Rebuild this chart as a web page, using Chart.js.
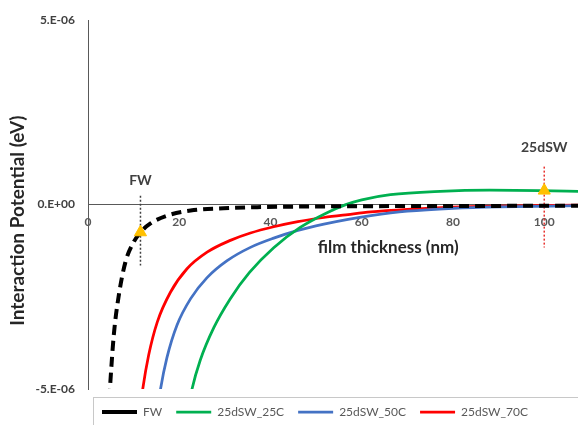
<!DOCTYPE html>
<html>
<head>
<meta charset="utf-8">
<script src="https://cdn.jsdelivr.net/npm/chart.js@4"></script>
<style>
  html, body { margin: 0; padding: 0; background: #ffffff; }
</style>
</head>
<body>
<canvas id="chart" width="578" height="425"></canvas>
<script>
// Interaction potential vs. film thickness
const seriesNames = ['FW', '25dSW_25C', '25dSW_50C', '25dSW_70C'];

const fwThickness = [4.45, 4.8, 5.65, 6.75, 8.2, 10.0, 11.5, 13.7, 17.3, 22.5, 29.7, 37.1, 50, 70, 90, 108];
const fwPotential = [-5.7e-6, -5.0e-6, -3.54e-6, -2.46e-6, -1.56e-6, -1.02e-6, -0.75e-6, -0.51e-6, -0.30e-6, -0.16e-6, -0.10e-6, -0.07e-6, -0.05e-6, -0.04e-6, -0.035e-6, -0.03e-6];

const sw25Thickness = [21.9, 22.8, 24.6, 27.6, 31.2, 35.4, 40.7, 46.5, 52.4, 56.5, 60, 66.3, 77.2, 88, 99, 108];
const sw25Potential = [-5.6e-6, -5.0e-6, -4.22e-6, -3.33e-6, -2.55e-6, -1.84e-6, -1.17e-6, -0.62e-6, -0.22e-6, 0.0, 0.13e-6, 0.27e-6, 0.36e-6, 0.39e-6, 0.38e-6, 0.36e-6];

const sw50Thickness = [15.1, 15.9, 17.3, 19.5, 22.5, 26.1, 30.5, 35.6, 40.7, 46, 51.7, 57, 62, 70, 80, 90, 108];
const sw50Potential = [-5.7e-6, -5.0e-6, -4.15e-6, -3.27e-6, -2.55e-6, -1.98e-6, -1.52e-6, -1.16e-6, -0.91e-6, -0.70e-6, -0.53e-6, -0.40e-6, -0.30e-6, -0.18e-6, -0.10e-6, -0.06e-6, -0.03e-6];

const sw70Thickness = [11.3, 12.0, 13.3, 15.2, 18.1, 21.7, 26.1, 31.2, 35.6, 40.7, 46, 51.7, 57, 62, 70, 80, 90, 108];
const sw70Potential = [-5.7e-6, -5.0e-6, -4.08e-6, -3.18e-6, -2.37e-6, -1.74e-6, -1.29e-6, -0.97e-6, -0.77e-6, -0.60e-6, -0.46e-6, -0.35e-6, -0.27e-6, -0.20e-6, -0.13e-6, -0.07e-6, -0.04e-6, -0.01e-6];

// marked film thicknesses with their drop lines and captions
const markerLabels = ['FW', '25dSW'];
const markerThickness = [11.5, 100];
const markerPotential = [-0.75e-6, 0.38e-6];
const dropTop = [0.24e-6, 1.03e-6];
const dropBottom = [-1.65e-6, -1.16e-6];
const captionPotential = [0.65e-6, 1.54e-6];

const xTickValues = [0, 20, 40, 60, 80, 100];
const yTickValues = [-5e-6, 0, 5e-6];
const yTickLabels = ['-5.E-06', '0.E+00', '5.E-06'];
const xTitle = 'film thickness (nm)';
const yTitle = 'Interaction Potential (eV)';

const pairs = (xs, ys) => xs.map((x, i) => ({ x: x, y: ys[i] }));

const FONT = 'Lato';
const lineCommon = { pointRadius: 0, pointStyle: 'line', fill: false, cubicInterpolationMode: 'monotone' };

const datasets = [
  {
    label: 'markers',
    data: pairs(markerThickness, markerPotential),
    showLine: false,
    pointStyle: 'triangle',
    pointRadius: 7,
    backgroundColor: '#FFC000',
    borderColor: '#FFC000',
    borderWidth: 1
  },
  Object.assign({}, lineCommon, {
    label: seriesNames[0],
    data: pairs(fwThickness, fwPotential),
    borderColor: '#000000',
    backgroundColor: '#000000',
    borderWidth: 4,
    borderDash: [10, 6]
  }),
  Object.assign({}, lineCommon, {
    label: seriesNames[1],
    data: pairs(sw25Thickness, sw25Potential),
    borderColor: '#00B050',
    backgroundColor: '#00B050',
    borderWidth: 2.75
  }),
  Object.assign({}, lineCommon, {
    label: seriesNames[2],
    data: pairs(sw50Thickness, sw50Potential),
    borderColor: '#4472C4',
    backgroundColor: '#4472C4',
    borderWidth: 2.75
  }),
  Object.assign({}, lineCommon, {
    label: seriesNames[3],
    data: pairs(sw70Thickness, sw70Potential),
    borderColor: '#FF0000',
    backgroundColor: '#FF0000',
    borderWidth: 2.75
  }),
  {
    label: 'drop FW',
    data: [{ x: markerThickness[0], y: dropTop[0] }, { x: markerThickness[0], y: dropBottom[0] }],
    borderColor: '#404040',
    borderWidth: 1.5,
    borderDash: [2, 2],
    pointRadius: 0
  },
  {
    label: 'drop 25dSW',
    data: [{ x: markerThickness[1], y: dropTop[1] }, { x: markerThickness[1], y: dropBottom[1] }],
    borderColor: '#E8322E',
    borderWidth: 1.5,
    borderDash: [2, 2],
    pointRadius: 0
  }
];

// frame around the legend row
const legendFrame = {
  id: 'legendFrame',
  afterLayout(chart) {
    chart.legend.top += 3;
    chart.legend.bottom += 3;
  },
  afterDraw(chart) {
    const ctx = chart.ctx;
    const lg = chart.legend;
    ctx.save();
    ctx.strokeStyle = '#C8C8C8';
    ctx.lineWidth = 1;
    ctx.strokeRect(chart.chartArea.left + 5.5, lg.top + 5.5, chart.width, chart.height);
    ctx.restore();
  }
};

// axis titles and marker captions
const annotations = {
  id: 'annotations',
  afterDraw(chart) {
    const ctx = chart.ctx;
    const xs = chart.scales.x;
    const ys = chart.scales.y;
    ctx.save();
    ctx.fillStyle = '#262626';
    ctx.textAlign = 'center';
    ctx.textBaseline = 'middle';
    ctx.font = 'bold 17px ' + FONT;
    ctx.fillText(xTitle, xs.getPixelForValue(65.8), ys.getPixelForValue(0) + 43);

    ctx.font = 'bold 14px ' + FONT;
    ctx.fillStyle = '#404040';
    markerLabels.forEach((t, i) => {
      ctx.fillText(t, xs.getPixelForValue(markerThickness[i]), ys.getPixelForValue(captionPotential[i]));
    });

    ctx.translate(18, (ys.top + ys.bottom) / 2 + 16);
    ctx.rotate(-Math.PI / 2);
    ctx.font = 'bold 19px ' + FONT;
    ctx.fillStyle = '#262626';
    ctx.fillText(yTitle, 0, 0);
    ctx.restore();
  }
};

new Chart(document.getElementById('chart'), {
  type: 'line',
  data: { datasets: datasets },
  options: {
    responsive: false,
    devicePixelRatio: 1,
    animation: false,
    layout: { autoPadding: false, padding: { top: 20, right: 0, bottom: 0, left: 0 } },
    plugins: {
      tooltip: { enabled: false },
      legend: {
        position: 'bottom',
        fullSize: false,
        align: 'start',
        labels: {
          usePointStyle: true,
          pointStyleWidth: 35,
          padding: 14,
          color: '#595959',
          font: { family: FONT, size: 12 },
          filter: (item) => item.datasetIndex >= 1 && item.datasetIndex <= 4
        }
      }
    },
    scales: {
      x: {
        type: 'linear',
        min: 0,
        max: 107.4,
        position: { y: 0 },
        afterBuildTicks: (s) => { s.ticks = xTickValues.map((v) => ({ value: v })); },
        afterFit: (s) => { s.height = 0; s.paddingLeft = 0; s.paddingRight = 0; },
        grid: { display: false, drawTicks: false },
        border: { display: true, color: '#595959', width: 1 },
        ticks: {
          padding: 10,
          maxRotation: 0,
          autoSkip: false,
          color: '#595959',
          font: { family: FONT, size: 12, weight: 'bold' }
        }
      },
      y: {
        type: 'linear',
        min: -5e-6,
        max: 5e-6,
        afterBuildTicks: (s) => { s.ticks = yTickValues.map((v) => ({ value: v })); },
        afterFit: (s) => { s.width = 88; },
        grid: { display: false, drawTicks: false },
        border: { display: true, color: '#595959', width: 1 },
        ticks: {
          padding: 13,
          color: '#404040',
          font: { family: FONT, size: 12, weight: 'bold' },
          callback: (v) => yTickLabels[yTickValues.indexOf(v)]
        }
      }
    }
  },
  plugins: [legendFrame, annotations]
});
</script>
</body>
</html>
